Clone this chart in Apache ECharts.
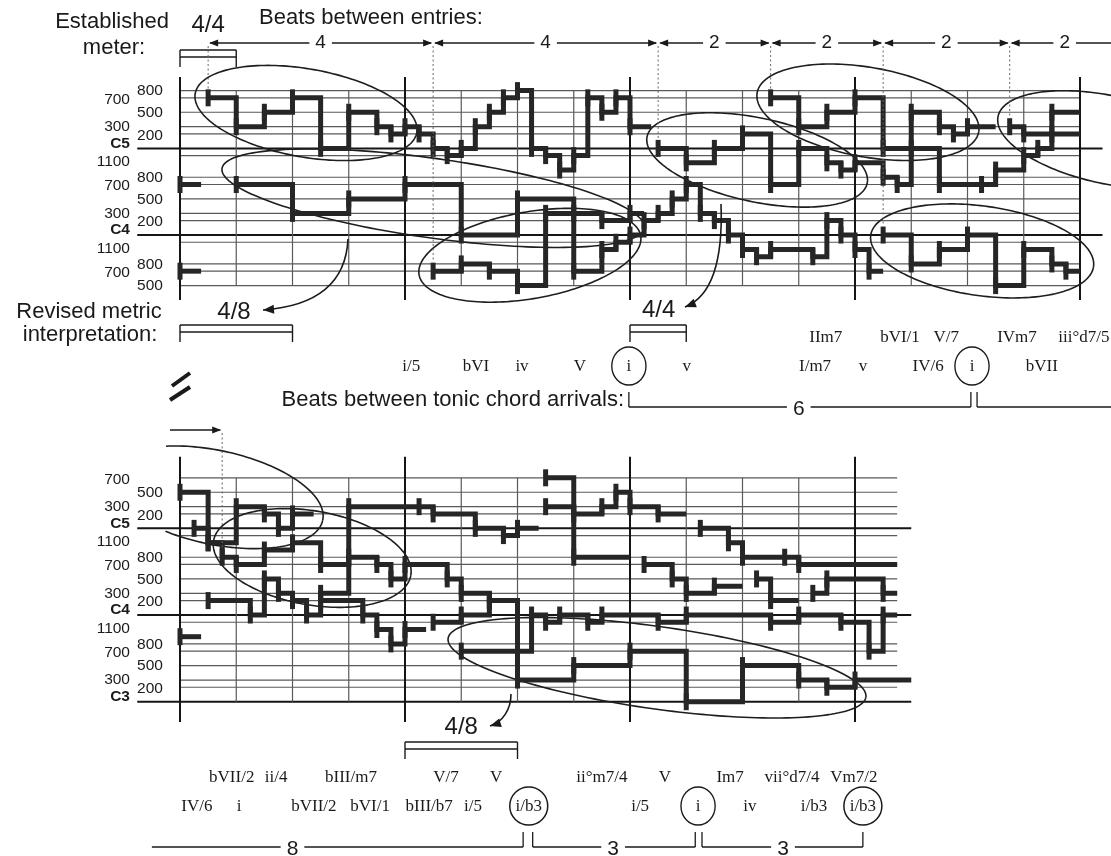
<!DOCTYPE html>
<html><head><meta charset="utf-8">
<script src="https://cdn.jsdelivr.net/npm/echarts@6/dist/echarts.min.js"></script>
<style>html,body{margin:0;padding:0;background:#fff}#c{width:1111px;height:856px}</style>
</head><body><div id="c"></div>
<script>
// ================= DATA =================
// pitch = semitones relative to C4, time = beats from start of system
const topGridLines = [20,19,17,15,14,12,11,8,7,5,3,2,0,-1,-4,-5,-7];
const botGridLines = [19,17,15,14,12,11,8,7,5,3,2,0,-1,-4,-5,-7,-9,-10,-12];
const topBarBeats = [0,4,8,12,16];
const topBeatLines = [1,2,3,5,6,7,9,10,11,13,14,15];
const botBarBeats = [0,4,8,12];
const botBeatLines = [1,2,3,5,6,7,9,10,11];

// notes: [onset, pitch]; [time, null] = end of a phrase (rest)
const topSoprano = [[0.5,19],[1,15],[1.5,17],[2,19],[2.5,12],[3,17],[3.5,15],[3.75,14],[4,15],[4.25,14],[4.5,12],[4.75,11],[5,12],[5.25,15],[5.5,17],[5.75,19],[6,20],[6.25,12],[6.5,11],[6.75,9],[7,11],[7.25,19],[7.5,17],[7.75,19],[8,15],[8.375,null],
  [10.5,19],[11,15],[11.5,17],[12,19],[12.5,12],[13,17],[13.5,15],[13.75,14],[14,15],[14.5,null],
  [14.75,15],[15,14],[15.5,17],[16,null]];
const topAlto = [[0,7],[0.375,null],[1,7],[2,3],[3,5],[4,7],[5,0],[6,5],[7,3],[7.5,2],[8,3],[8.25,null],
  [8.5,12],[9,10],[9.5,12],[10,14],[10.5,7],[11,12],[11.5,10],[11.75,9],[12,10],[12.5,8],[12.75,7],[13,12],[13.5,7],[14.25,7],[14.5,9],[15,11],[15.25,12],[15.5,14],[16,null]];
const topLow = [[0,-5],[0.375,null],[4.5,-5],[5,-4],[5.5,-5],[6,-7],[6.5,3],[7,-5],[7.5,-2],[7.75,-1],[8,0],[8.25,2],[8.5,3],[8.75,5],[9,7],[9.25,3],[9.5,2],[9.75,0],[10,-2],[10.25,-3],[10.5,-2],[11.25,-3],[11.5,2],[11.75,0],[12,-2],[12.25,-5],[12.5,null]];
const topTenor = [[12.5,0],[13,-4],[13.5,-2],[14,0],[14.5,-7],[15,-2],[15.5,-4],[15.75,-5],[16,null]];

const botSoprano = [[0,17],[0.5,10],[1,15],[1.5,14],[1.75,12],[2,14],[2.375,null],[6.5,19],[7,8],[8,null],[8.25,7],[8.75,5],[9,3],[9.5,4],[10,null],[10.25,5],[10.5,2],[11,null],[11.25,3],[11.5,5],[12.5,3],[12.75,null]];
const botUpper = [[6.5,15],[7,14],[7.5,15],[7.75,17],[8,15],[8.5,14],[9,null],[9.25,12],[9.75,10],[10,8],[10.75,8],[11,7],[12.75,null]];
const botTenor = [[0.5,2],[1.25,0],[1.5,5],[1.75,3],[2,2],[2.25,0],[2.5,3],[3,15],[4.25,15],[4.5,14],[5.25,12],[5.75,11],[6,12],[6.375,null]];
const botAlto = [[0.25,12],[0.5,10],[0.75,8],[1,7],[1.5,9],[2,10],[2.5,7],[3,8],[3.5,7],[3.75,5],[4,7],[4.75,5],[5,3],[5.5,2],[6,-5],[6.25,0],[6.5,-1],[6.75,0],[7.25,-1],[7.5,0],[8.5,-1],[9,0],[10.5,-1],[11,0],[11.75,-1],[12.25,-5],[12.5,0],[12.75,null]];
const botLow = [[0,-3],[0.375,null],[2.5,2],[3.25,0],[3.5,-2],[3.75,-4],[4,-2],[4.375,null],[4.5,-1],[5,0],[5.5,2],[6,null]];
const botBass = [[5,-5],[6,-9],[7,-7],[8,-5],[9,-12],[10,-7],[11,-9],[11.5,-10],[12,-9],[13,null]];

// subject groupings: [centre beat, centre pitch, half-width (beats), half-height (semitones), tilt deg, clip beat]
const topGroups = [[2.24,16.9,2.0,6.1,10,-99],[4.5,5.1,3.79,5.5,8,-99],[6.22,-2.8,2.0,6.0,-10,-99],[10.26,10.4,2.0,5.8,12,-99],[12.23,17.0,2.0,6.2,10,-99],[14.26,-2.2,2.0,6.2,8,-99],[16.5,13.2,2.0,6.1,12,-99]];
const botGroups = [[0.62,16.3,1.96,6.5,12,-0.3],[2.35,7.9,1.78,6.5,10,-99],[8.48,-7.3,3.75,5.7,8,-99]];

const entryBeats = [0.5,4.5,8.5,10.5,12.5,14.75];
const entryPitch = [19,-5,12,19,0,15];
const entryGaps = ['4','4','2','2','2','2'];
const botEntryBeat = 0.75, botEntryPitch = 8;

const midChords1 = ['IIm7','bVI/1','V/7','IVm7','iii°d7/5'];
const midChords1Beat = [11.48,12.8,13.62,14.88,16.07];
const midChords2 = ['i/5','bVI','iv','V','i','v','I/m7','v','IV/6','i','bVII'];
const midChords2Beat = [4.11,5.26,6.08,7.11,7.98,9.01,11.29,12.14,13.3,14.08,15.32];
const midCircled = [4,9];
const botChords1 = ['bVII/2','ii/4','bIII/m7','V/7','V','ii°m7/4','V','Im7','vii°d7/4','Vm7/2'];
const botChords1Beat = [0.92,1.71,3.04,4.73,5.62,7.5,8.62,9.78,10.88,11.98];
const botChords2 = ['IV/6','i','bVII/2','bVI/1','bIII/b7','i/5','i/b3','i/5','i','iv','i/b3','i/b3'];
const botChords2Beat = [0.3,1.05,2.38,3.38,4.43,5.21,6.2,8.18,9.21,10.13,11.27,12.14];
const botCircled = [6,8,11];
// tonic arrival spans: [from beat, to beat, label, label beat, open left, open right]
const midTonicSpans = [[7.98,14.06,'6',11.0,0,0],[14.17,16.7,'',0,0,1]];
const botTonicSpans = [[-0.5,6.1,'8',2.0,1,0],[6.27,9.16,'3',7.7,0,0],[9.28,12.14,'3',10.72,0,0]];

// ================= RENDER =================
const NOTE = '#262626';
const SANS = '"Liberation Sans", Arial, sans-serif';
const SERIF = '"Liberation Serif", "DejaVu Serif", serif';
const chart = echarts.init(document.getElementById('c'), null, {width:1111, height:856});

function segs(notes){
  const out=[]; let cur=[];
  for(let i=0;i<notes.length-1;i++){
    const t=notes[i][0], p=notes[i][1], t2=notes[i+1][0];
    if(p===null){ if(cur.length) out.push(cur); cur=[]; continue; }
    cur.push([t,p]); cur.push([t2,p]);
  }
  if(cur.length) out.push(cur);
  return out;
}
const series=[];
function addVoice(notes,g){
  segs(notes).forEach(sg=>series.push({type:'line',xAxisIndex:g,yAxisIndex:g,data:sg,symbol:'none',clip:false,silent:true,z:5,animation:false,
    lineStyle:{width:5,color:NOTE,cap:'butt',join:'miter',opacity:1}}));
  series.push({type:'scatter',xAxisIndex:g,yAxisIndex:g,data:notes.filter(n=>n[1]!==null),symbol:'rect',symbolSize:[5,17],
    itemStyle:{color:NOTE,opacity:1},clip:false,silent:true,z:6,animation:false});
}
function hLines(g,lines,b0,b1,cb0,cb1){
  return {type:'custom',xAxisIndex:g,yAxisIndex:g,z:1,silent:true,clip:false,animation:false,
    data:lines.map(s=>{const c=(((s%12)+12)%12===0);return [s,c?cb0:b0,c?cb1:b1,c?1:0];}),
    renderItem:(p,api)=>{const s=api.value(0);const a=api.coord([api.value(1),s]);const b=api.coord([api.value(2),s]);const c=api.value(3)===1;
      return {type:'line',shape:{x1:a[0],y1:a[1],x2:b[0],y2:b[1]},style:{stroke:c?'#151515':'#5a5a5a',lineWidth:c?2:1.2}};}};
}
function vLines(g,bars,beats,bs0,bs1,s0,s1){
  const data=bars.map(b=>[b,bs0,bs1,1]).concat(beats.map(b=>[b,s0,s1,0]));
  return {type:'custom',xAxisIndex:g,yAxisIndex:g,z:2,silent:true,clip:false,animation:false,data,
    renderItem:(p,api)=>{const b=api.value(0);const a=api.coord([b,api.value(1)]);const c=api.coord([b,api.value(2)]);const bar=api.value(3)===1;
      return {type:'line',shape:{x1:a[0],y1:a[1],x2:c[0],y2:c[1]},style:{stroke:bar?'#151515':'#5a5a5a',lineWidth:bar?2:1.2}};}};
}
function labelSeries(g,lines){
  return {type:'custom',xAxisIndex:g,yAxisIndex:g,z:3,silent:true,clip:false,animation:false,data:lines.map(s=>[s,0]),
    renderItem:(p,api)=>{
      const s=api.value(0); const m=((s%12)+12)%12;
      let txt=String(m*100), bold=false, dy=0, rightCol=false;
      if(m===0){txt='C'+(4+Math.round(s/12));bold=true;dy=-5;}
      else if(m===11){dy=6;}
      else if(m===8||m===5||m===2){rightCol=true;dy=(m===2)?1.5:0.5;}
      else if(m===7){dy=1.5;}
      const pt=api.coord([rightCol?-0.764:-0.889,s]);
      const al=rightCol?'left':'right';
      return {type:'text',x:pt[0],y:pt[1]+dy,style:{text:txt,font:(bold?'bold ':'')+'15.5px '+SANS,fill:'#1a1a1a',textAlign:al,align:al,textVerticalAlign:'middle',verticalAlign:'middle'}};
    }};
}
function groupSeries(g,data){
  return {type:'custom',xAxisIndex:g,yAxisIndex:g,z:4,silent:true,clip:false,animation:false,data,
    renderItem:(p,api)=>{
      const c=api.coord([api.value(0),api.value(1)]);
      const sz=api.size([api.value(2),api.value(3)]);
      const rx=sz[0], ry=sz[1], ph=api.value(4)*Math.PI/180;
      const clipX=api.coord([api.value(5),0])[0];
      const N=180; const parts=[]; let cur=[];
      for(let k=0;k<=N;k++){
        const t=2*Math.PI*k/N, ex=rx*Math.cos(t), ey=ry*Math.sin(t);
        const x=c[0]+ex*Math.cos(ph)-ey*Math.sin(ph), y=c[1]+ex*Math.sin(ph)+ey*Math.cos(ph);
        if(x>=clipX) cur.push([x,y]); else { if(cur.length>1) parts.push(cur); cur=[]; }
      }
      if(cur.length>1) parts.push(cur);
      return {type:'group',children:parts.map(pts=>({type:'polyline',shape:{points:pts},style:{stroke:'#1e1e1e',lineWidth:1.6,fill:'none'}}))};
    }};
}

series.push(hLines(0,topGridLines,0,16,-0.76,16.4));
series.push(hLines(1,botGridLines,0,12.75,-0.76,13.0));
series.push(vLines(0,topBarBeats,topBeatLines,21.9,-9.0,20,-7));
series.push(vLines(1,botBarBeats,botBeatLines,21.9,-14.8,19,-12));
series.push(labelSeries(0,topGridLines));
series.push(labelSeries(1,botGridLines));
series.push(groupSeries(0,topGroups));
series.push(groupSeries(1,botGroups));
[topSoprano,topAlto,topLow,topTenor].forEach(v=>addVoice(v,0));
[botSoprano,botUpper,botTenor,botAlto,botLow,botBass].forEach(v=>addVoice(v,1));

chart.setOption({
  animation:false,
  backgroundColor:'#fff',
  grid:[{left:180,top:90.6,width:900,height:195},{left:180,top:477.8,width:900,height:223.9}],
  xAxis:[{gridIndex:0,type:'value',min:0,max:16,show:false},{gridIndex:1,type:'value',min:0,max:16,show:false}],
  yAxis:[{gridIndex:0,type:'value',min:-7,max:20,show:false},{gridIndex:1,type:'value',min:-12,max:19,show:false}],
  series
});

// ================= ANNOTATIONS =================
const P=(g,b,s)=>chart.convertToPixel({gridIndex:g},[b,s]);
const X=(b)=>P(0,b,0)[0];
const els=[];
function txt(x,y,t,font,al,extra){const a=al||'center';els.push({type:'text',x,y,z:30,silent:true,style:Object.assign({text:t,font,fill:'#1a1a1a',textAlign:a,align:a,textVerticalAlign:'middle',verticalAlign:'middle'},extra||{})});}
function ln(x1,y1,x2,y2,w,dash,col){els.push({type:'line',z:25,silent:true,shape:{x1,y1,x2,y2},style:{stroke:col||'#1a1a1a',lineWidth:w||1.3,lineDash:dash||null}});}
function head(xt,yt,ang,L,W){const c=Math.cos(ang),s=Math.sin(ang);
  els.push({type:'polygon',z:26,silent:true,shape:{points:[[xt,yt],[xt-L*c-W*s,yt-L*s+W*c],[xt-L*c+W*s,yt-L*s-W*c]]},style:{fill:'#1a1a1a'}});}
function bracket(x1,x2,y){ln(x1,y,x2,y,1.4);ln(x1,y+7,x2,y+7,1.4);ln(x1,y,x1,y+17,1.4);ln(x2,y,x2,y+17,1.4);}
function curve(x1,y1,c1x,c1y,c2x,c2y,x2,y2){
  els.push({type:'bezierCurve',z:25,silent:true,shape:{x1,y1,x2,y2,cpx1:c1x,cpy1:c1y,cpx2:c2x,cpy2:c2y},style:{stroke:'#1a1a1a',lineWidth:1.6,fill:'none'}});
  head(x2,y2,Math.atan2(y2-c2y,x2-c2x),11,4.5);}

// top texts
txt(112,22,'Established','22px '+SANS);
txt(114,48,'meter:','22px '+SANS);
txt(X(0.5),25,'4/4','24px '+SANS);
bracket(X(0),X(1),50);
txt(259,18,'Beats between entries:','22px '+SANS,'left');

// entry arrows + dotted lines
const AY=43;
entryBeats.forEach((b,i)=>{
  const x1=X(b); const last=i===entryBeats.length-1; const x2=last?1130:X(entryBeats[i+1]);
  ln(x1+2,AY,x2-2,AY,1.3);
  head(x1+1,AY,Math.PI,9,3.6);
  if(!last) head(x2-1,AY,0,9,3.6);
  txt(last?x1+55:(x1+x2)/2,AY,entryGaps[i],'19px '+SANS,'center',{backgroundColor:'#fff',padding:[0,6]});
  ln(x1,AY+3,x1,P(0,b,entryPitch[i]+1.25)[1],1,[2,2.5],'#666');
});
// bottom-system continuation arrow
{const xb=P(1,botEntryBeat,0)[0]; ln(170,430,xb-2,430,1.3); head(xb-1,430,0,9,3.6);
 ln(xb,433,xb,P(1,botEntryBeat,botEntryPitch+1.25)[1],1,[2,2.5],'#666');}

// revised metric
txt(89,312,'Revised metric','22px '+SANS);
txt(90,335,'interpretation:','22px '+SANS);
txt(X(0.96),312,'4/8','24px '+SANS);
bracket(X(0),X(2),325);
txt(X(8.51),310,'4/4','24px '+SANS);
bracket(X(8),X(9),325);
curve(348,239,346,282,318,306,263,310);
curve(721,204,723,258,713,296,685,307);
txt(X(5),727,'4/8','24px '+SANS);
bracket(X(4),X(6),742);
curve(511,694,511,709,503,722,490,726);

// chord labels
function chordRow(names,beats,y,circled){
  names.forEach((n,i)=>{const x=X(beats[i]); txt(x,y,n,'17px '+SERIF);
    if(circled&&circled.indexOf(i)>=0){const r=19; els.push({type:'circle',z:25,silent:true,x,y:y-1,scaleX:(n.length>1?1.0:0.9),shape:{cx:0,cy:0,r},style:{stroke:'#1a1a1a',lineWidth:1.5,fill:'none'}});}
  });
}
chordRow(midChords1,midChords1Beat,338);
chordRow(midChords2,midChords2Beat,367,midCircled);
chordRow(botChords1,botChords1Beat,778);
chordRow(botChords2,botChords2Beat,807,botCircled);

// break sign
ln(172,386,190,373,4);
ln(170,400,190,387,4);

// tonic arrival brackets
txt(624,400,'Beats between tonic chord arrivals:','22px '+SANS,'right');
function spans(list,y){
  list.forEach(sp=>{const x1=X(sp[0]),x2=X(sp[1]); ln(x1,y,x2,y,1.3);
    if(!sp[4]) ln(x1,y-15,x1,y,1.3); if(!sp[5]) ln(x2,y-15,x2,y,1.3);
    if(sp[2]) txt(X(sp[3]),y+2,sp[2],'21px '+SANS,'center',{backgroundColor:'#fff',padding:[0,6]});});
}
spans(midTonicSpans,407);
spans(botTonicSpans,847);

chart.setOption({graphic:{elements:els}});
</script></body></html>
